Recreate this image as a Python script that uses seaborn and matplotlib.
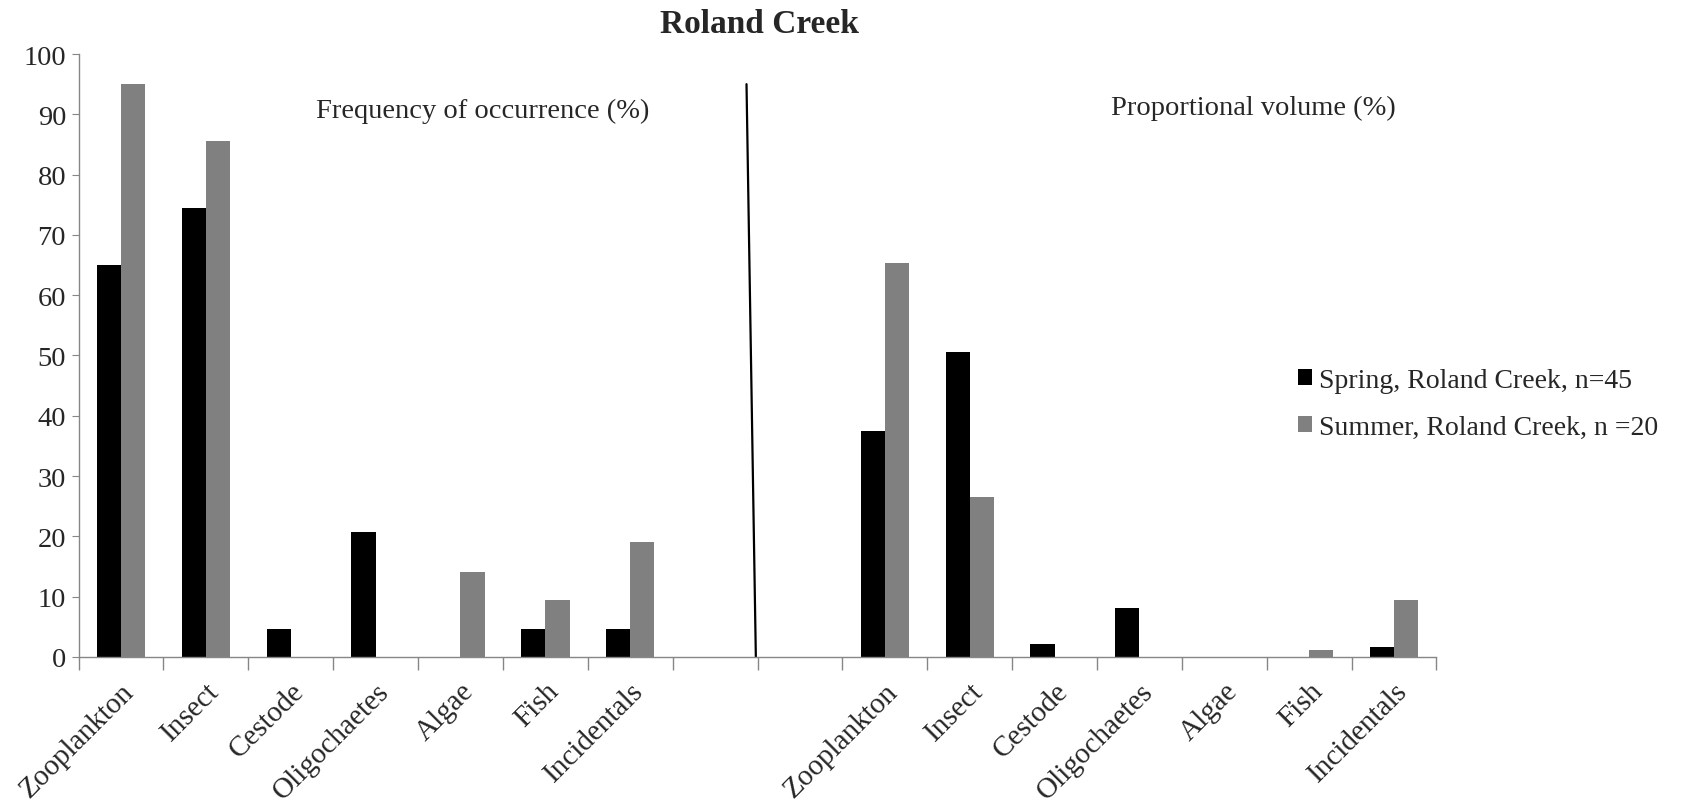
# Roland Creek diet chart: frequency of occurrence and proportional volume
import numpy as np
import pandas as pd
import matplotlib
matplotlib.use("Agg")
import matplotlib.pyplot as plt
import seaborn as sns

sns.set_style("white")
plt.rcParams['font.family'] = ['Liberation Serif', 'DejaVu Serif']

# data
prey = ['Zooplankton', 'Insect', 'Cestode', 'Oligochaetes', 'Algae', 'Fish', 'Incidentals']
freq_spring = [65.0, 74.4, 4.6, 20.8, 0.0, 4.6, 4.6]
freq_summer = [95.0, 85.5, 0.0, 0.0, 14.1, 9.5, 19.1]
vol_spring = [37.5, 50.5, 2.1, 8.2, 0.0, 0.0, 1.7]
vol_summer = [65.4, 26.6, 0.0, 0.0, 0.0, 1.2, 9.5]
seasons = ['Spring, Roland Creek, n=45', 'Summer, Roland Creek, n =20']
n_gap = 2

# build slot order: left group, two empty slots, right group
left_keys = ['F:' + p for p in prey]
right_keys = ['V:' + p for p in prey]
gap_keys = ['gap%d' % i for i in range(n_gap)]
order = left_keys + gap_keys + right_keys
tick_labels = prey + [''] * n_gap + prey

rows = []
for k, a, b in zip(left_keys, freq_spring, freq_summer):
    rows.append((k, seasons[0], a))
    rows.append((k, seasons[1], b))
for k, a, b in zip(right_keys, vol_spring, vol_summer):
    rows.append((k, seasons[0], a))
    rows.append((k, seasons[1], b))
df = pd.DataFrame(rows, columns=['slot', 'season', 'value'])

fig = plt.figure(figsize=(16.9, 8.03), dpi=100)
ax = fig.add_axes([0.0465, 0.1806, 0.8035, 0.7509])

sns.barplot(data=df, x='slot', y='value', hue='season', order=order,
            hue_order=seasons, palette=['black', '#808080'], width=0.57,
            errorbar=None, saturation=1, linewidth=0, ax=ax)

ax.set_xlim(-0.5, len(order) - 0.5)
ax.set_ylim(0, 100)
ax.set_yticks(np.arange(0, 101, 10))
ax.set_xlabel('')
ax.set_ylabel('')

ax.set_xticks(range(len(order)))
ax.set_xticklabels(tick_labels, rotation=45, ha='right', rotation_mode='anchor', fontsize=21)
ax.set_xticks(np.arange(len(order) + 1) - 0.5, minor=True)
ax.tick_params(axis='x', which='major', length=0, pad=15)
ax.tick_params(axis='x', which='minor', length=9, color='#868686', width=1, bottom=True)
ax.tick_params(axis='y', length=5, color='#868686', labelsize=20.5, pad=4, left=True)

sns.despine(ax=ax)
for s in ['left', 'bottom']:
    ax.spines[s].set_color('#868686')
    ax.spines[s].set_linewidth(1)

# divider between the two panels
ax.plot([7.37, 7.48], [95, 0], color='black', lw=1.6, clip_on=False)

ax.text(4.26, 90.7, 'Frequency of occurrence (%)', ha='center', va='center', fontsize=20.5)
ax.text(13.34, 91.2, 'Proportional volume (%)', ha='center', va='center', fontsize=20.5)

fig.text(0.4497, 0.969, 'Roland Creek', ha='center', va='center', fontsize=24, fontweight='bold')

ax.legend(loc='center left', bbox_to_anchor=(0.768, 0.496), bbox_transform=fig.transFigure,
          frameon=False, fontsize=20, handlelength=0.5, handleheight=0.5,
          handletextpad=0.25, labelspacing=0.8, borderpad=0, borderaxespad=0)

fig.savefig('out.png', dpi=100)
